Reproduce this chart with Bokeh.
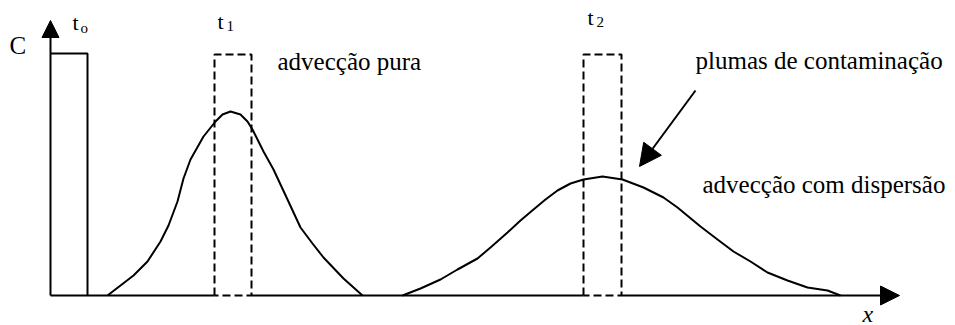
from bokeh.plotting import figure
from bokeh.models import Range1d, Arrow, NormalHead, ColumnDataSource
from bokeh.core.properties import value
from bokeh.embed import file_html
from bokeh.resources import INLINE

# Initial pulse (t0): position range along x and concentration
pulse_x = [50, 87]
pulse_c = 242

# Pure advection: pulse translated without change of shape (t1, t2)
t1_box_x = [214, 251]
t2_box_x = [583, 621]
box_c = 241

# Advection with dispersion: plume at t1
plume1_x = [107, 120, 133, 147, 160, 168, 177, 183, 190, 203, 215, 222, 230,
            240, 247, 252, 263, 273, 287, 300, 312, 323, 343, 362]
plume1_c = [0, 10, 20, 34, 54, 70, 94, 117, 136, 159, 174, 181, 184,
            181, 174, 166, 144, 126, 96, 68, 52, 38, 17, 0]

# Advection with dispersion: plume at t2
plume2_x = [402, 420, 440, 457, 477, 490, 507, 520, 533, 545, 557, 570, 583, 602,
            622, 643, 663, 677, 700, 717, 733, 750, 767, 787, 807, 827, 840]
plume2_c = [0, 7, 16, 26, 37, 48, 63, 75, 86, 96, 105, 112, 116, 119,
            116, 108, 98, 88, 69, 56, 44, 34, 23, 15, 8, 5, 0]

# Axis extents
x_axis_end = 899
c_axis_end = 275

FONT = value("'Liberation Serif', 'Times New Roman', serif")
INK = "black"
LW = 2

p = figure(width=955, height=325,
           x_range=Range1d(0, 955), y_range=Range1d(-30, 295),
           x_axis_type=None, y_axis_type=None,
           output_backend="svg", toolbar_location=None,
           min_border=0, outline_line_color=None,
           background_fill_color="white", border_fill_color="white")
p.grid.visible = False

# Vertical (C) axis with arrow head
p.add_layout(Arrow(end=NormalHead(size=17, fill_color=INK, line_color=INK, line_width=1),
                   x_start=pulse_x[0], y_start=0, x_end=pulse_x[0], y_end=c_axis_end,
                   line_width=LW, line_color=INK))

# Horizontal (x) axis: solid pieces, dashed where the boxes sit
p.line([pulse_x[0], t1_box_x[0]], [0, 0], line_width=LW, line_color=INK)
p.line([t1_box_x[1], t2_box_x[0]], [0, 0], line_width=LW, line_color=INK)
p.add_layout(Arrow(end=NormalHead(size=19, fill_color=INK, line_color=INK, line_width=1),
                   x_start=t2_box_x[1], y_start=0, x_end=x_axis_end, y_end=0,
                   line_width=LW, line_color=INK))

# Initial pulse
p.line([pulse_x[0], pulse_x[1], pulse_x[1]], [pulse_c, pulse_c, 0],
       line_width=LW, line_color=INK)

# Dashed boxes for pure advection
for bx in (t1_box_x, t2_box_x):
    p.line([bx[0], bx[0], bx[1], bx[1], bx[0]], [0, box_c, box_c, 0, 0],
           line_width=LW, line_color=INK, line_dash="8 4")

# Dispersed plumes
p.line(plume1_x, plume1_c, line_width=LW, line_color=INK, line_join="round")
p.line(plume2_x, plume2_c, line_width=LW, line_color=INK, line_join="round")

# Callout arrow pointing to the dispersed plume
p.add_layout(Arrow(end=NormalHead(size=22, fill_color=INK, line_color=INK, line_width=1),
                   x_start=695, y_start=205, x_end=639, y_end=129,
                   line_width=LW, line_color=INK))

# Labels
big = ColumnDataSource(dict(
    x=[9, 277, 695, 702],
    y=[250, 234, 235, 111],
    t=["C", "advecção pura", "plumas de contaminação", "advecção com dispersão"],
))
p.text("x", "y", text="t", source=big, text_font=FONT, text_font_size="25px",
       text_color=INK, text_baseline="alphabetic", text_align="left")

p.text([862], [-18], text=["x"], text_font=FONT, text_font_size="24px",
       text_font_style="italic", text_color=INK, text_baseline="alphabetic")

# Time labels t0, t1, t2 with subscripts
p.text([72, 217, 587], [273, 274, 278], text=["t", "t", "t"], text_font=FONT,
       text_font_size="22px", text_color=INK, text_baseline="alphabetic")
p.text([80, 226, 596], [268, 270, 274], text=["o", "1", "2"], text_font=FONT,
       text_font_size="15px", text_color=INK, text_baseline="alphabetic")

open("out.html", "w").write(file_html(p, INLINE))
